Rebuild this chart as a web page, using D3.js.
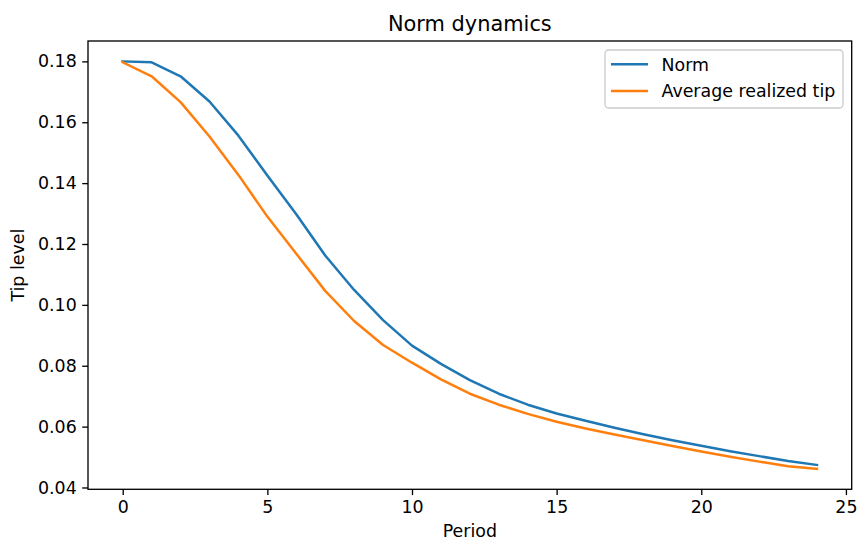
<!DOCTYPE html>
<html>
<head>
<meta charset="utf-8">
<script src="https://cdn.jsdelivr.net/npm/d3@7"></script>
<style>
  body { margin: 0; background: #fff; }
  text { font-family: "DejaVu Sans", sans-serif; fill: #000; }
</style>
</head>
<body>
<script>
var width = 858,
    height = 541;

var margin = {top: 41, right: 858 - 851.7, bottom: 541 - 489.3, left: 88};
var fontSize = "17.4px";

// data
var periods = d3.range(0, 25);
var norm = [0.1800, 0.1797, 0.1751, 0.1668, 0.1556, 0.1425, 0.1298, 0.1162, 0.1049, 0.0950,
            0.0866, 0.0806, 0.0753, 0.0708, 0.0672, 0.0643, 0.0619, 0.0596, 0.0575, 0.0555,
            0.0537, 0.0519, 0.0503, 0.0487, 0.0474];
var avgTip = [0.1797, 0.1751, 0.1666, 0.1553, 0.1427, 0.1290, 0.1168, 0.1046, 0.0947, 0.0868,
              0.0810, 0.0755, 0.0708, 0.0672, 0.0642, 0.0616, 0.0594, 0.0574, 0.0555, 0.0536,
              0.0518, 0.0501, 0.0485, 0.0470, 0.0461];
var xTicks = [0, 5, 10, 15, 20, 25];
var yTicks = [0.04, 0.06, 0.08, 0.10, 0.12, 0.14, 0.16, 0.18];
var seriesNames = ["Norm", "Average realized tip"];
var colors = ["#1f77b4", "#ff7f0e"];

var svg = d3.select("body").append("svg")
    .attr("width", width)
    .attr("height", height);

var x = d3.scaleLinear()
    .domain([-1.2, 25.2])
    .range([margin.left, width - margin.right]);

// matplotlib style 5% padding around data
var allY = norm.concat(avgTip);
var yMin = d3.min(allY), yMax = d3.max(allY), pad = (yMax - yMin) * 0.05;
var y = d3.scaleLinear()
    .domain([yMin - pad, yMax + pad])
    .range([height - margin.bottom, margin.top]);

var line = d3.line()
    .x(function(d, i) { return x(periods[i]); })
    .y(function(d) { return y(d); });

[norm, avgTip].forEach(function(s, i) {
  svg.append("path")
    .datum(s)
    .attr("fill", "none")
    .attr("stroke", colors[i])
    .attr("stroke-width", 2.5)
    .attr("stroke-linejoin", "round")
    .attr("stroke-linecap", "square")
    .attr("d", line);
});

// axes
var xAxis = svg.append("g")
    .attr("transform", "translate(0," + (height - margin.bottom) + ")")
    .call(d3.axisBottom(x).tickValues(xTicks).tickSize(5.8).tickPadding(5).tickFormat(d3.format("d")));

var yAxis = svg.append("g")
    .attr("transform", "translate(" + margin.left + ",0)")
    .call(d3.axisLeft(y).tickValues(yTicks).tickSize(5.8).tickPadding(5.5).tickFormat(d3.format(".2f")));

[xAxis, yAxis].forEach(function(g) {
  g.select(".domain").remove();
  g.selectAll(".tick line").attr("stroke", "#000").attr("stroke-width", 1.33);
  g.selectAll(".tick text").style("font-size", fontSize).attr("fill", "#000");
});
xAxis.selectAll(".tick text").attr("dy", "0.72em");

// frame
svg.append("rect")
    .attr("x", margin.left)
    .attr("y", margin.top)
    .attr("width", width - margin.left - margin.right)
    .attr("height", height - margin.top - margin.bottom)
    .attr("fill", "none")
    .attr("stroke", "#000")
    .attr("stroke-width", 1.33);

// title and labels
svg.append("text")
    .attr("x", (margin.left + width - margin.right) / 2)
    .attr("y", 31)
    .attr("text-anchor", "middle")
    .style("font-size", "20.9px")
    .text("Norm dynamics");

svg.append("text")
    .attr("x", (margin.left + width - margin.right) / 2)
    .attr("y", 536.8)
    .attr("text-anchor", "middle")
    .style("font-size", fontSize)
    .text("Period");

svg.append("text")
    .attr("transform", "translate(24," + ((margin.top + height - margin.bottom) / 2) + ") rotate(-90)")
    .attr("text-anchor", "middle")
    .style("font-size", fontSize)
    .text("Tip level");

// legend
var legend = svg.append("g");
legend.append("rect")
    .attr("x", 605)
    .attr("y", 50)
    .attr("width", 238)
    .attr("height", 58)
    .attr("rx", 3.5)
    .attr("fill", "#fff")
    .attr("fill-opacity", 0.8)
    .attr("stroke", "#cccccc")
    .attr("stroke-width", 1.33);

seriesNames.forEach(function(name, i) {
  var ly = 64.3 + i * 26.7;
  legend.append("line")
    .attr("x1", 611).attr("x2", 648)
    .attr("y1", ly).attr("y2", ly)
    .attr("stroke", colors[i])
    .attr("stroke-width", 2.5);
  legend.append("text")
    .attr("x", 661.5)
    .attr("y", ly)
    .attr("dy", "0.36em")
    .style("font-size", fontSize)
    .text(name);
});
</script>
</body>
</html>
